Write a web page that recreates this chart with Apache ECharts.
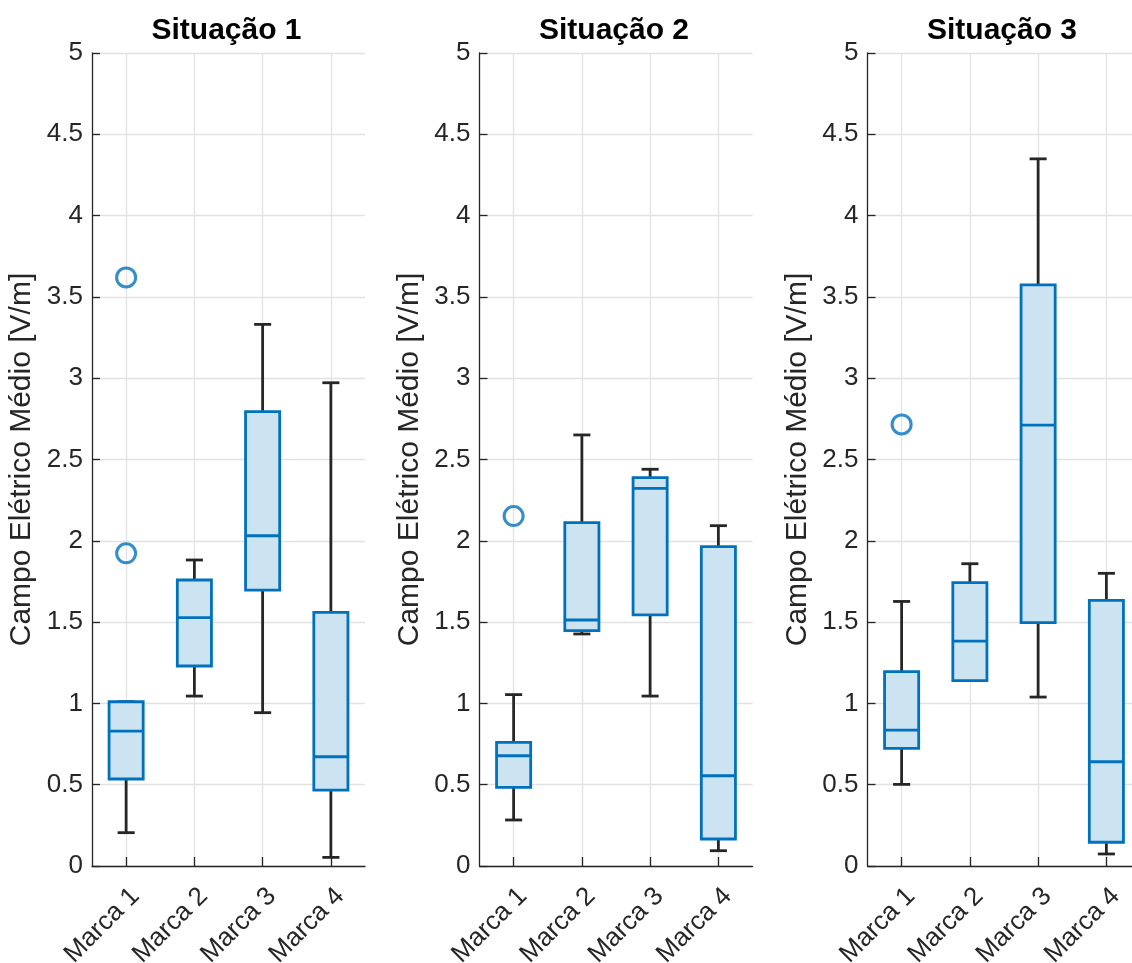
<!DOCTYPE html>
<html>
<head>
<meta charset="utf-8">
<script src="https://cdn.jsdelivr.net/npm/echarts@6/dist/echarts.min.js"></script>
<style>
html,body{margin:0;padding:0;background:#fff;}
#chart{width:1132px;height:963px;}
</style>
</head>
<body>
<div id="chart"></div>
<script>
const categories = ['Marca 1', 'Marca 2', 'Marca 3', 'Marca 4'];
const titles = ['Situação 1', 'Situação 2', 'Situação 3'];
const yLabel = 'Campo Elétrico Médio [V/m]';

// Situação 1: whisker low, Q1, median, Q3, whisker high
const s1Low  = [0.205, 1.045, 0.943, 0.053];
const s1Q1   = [0.535, 1.230, 1.697, 0.467];
const s1Med  = [0.830, 1.527, 2.031, 0.672];
const s1Q3   = [1.010, 1.759, 2.794, 1.560];
const s1High = [1.010, 1.882, 3.331, 2.972];
const s1Outliers = [[0, 3.62], [0, 1.923]];

// Situação 2
const s2Low  = [0.283, 1.427, 1.045, 0.094];
const s2Q1   = [0.484, 1.447, 1.544, 0.166];
const s2Med  = [0.678, 1.513, 2.322, 0.555];
const s2Q3   = [0.760, 2.112, 2.388, 1.964];
const s2High = [1.054, 2.651, 2.440, 2.093];
const s2Outliers = [[0, 2.152]];

// Situação 3
const s3Low  = [0.502, 1.140, 1.039, 0.074];
const s3Q1   = [0.724, 1.140, 1.497, 0.146];
const s3Med  = [0.836, 1.383, 2.711, 0.641];
const s3Q3   = [1.196, 1.743, 3.574, 1.634];
const s3High = [1.627, 1.859, 4.349, 1.800];
const s3Outliers = [[0, 2.716]];

const yTicks = { min: 0, max: 5, interval: 0.5 };

const panels = [
  { low: s1Low, q1: s1Q1, med: s1Med, q3: s1Q3, high: s1High, out: s1Outliers },
  { low: s2Low, q1: s2Q1, med: s2Med, q3: s2Q3, high: s2High, out: s2Outliers },
  { low: s3Low, q1: s3Q1, med: s3Med, q3: s3Q3, high: s3High, out: s3Outliers }
];

const BLUE = '#0072BD';
const FILL = '#CCE3F2';
const DARK = '#262626';
const GRIDC = '#e2e2e2';
const FONT = '"Liberation Sans", Arial, Helvetica, sans-serif';

const gridLefts = [92, 479.5, 867.5];
const gridW = 273;

function renderBox(params, api) {
  const x = api.value(0);
  const lo = api.coord([x, api.value(1)]);
  const q1 = api.coord([x, api.value(2)]);
  const md = api.coord([x, api.value(3)]);
  const q3 = api.coord([x, api.value(4)]);
  const hi = api.coord([x, api.value(5)]);
  const band = api.size([1, 0])[0];
  const bw = band * 0.5;
  const cw = band * 0.25;
  const cx = lo[0];
  const lw = 2.8;
  const whisk = { stroke: DARK, lineWidth: lw, fill: null };
  return {
    type: 'group',
    children: [
      { type: 'line', shape: { x1: cx, y1: lo[1], x2: cx, y2: hi[1] }, style: whisk },
      { type: 'line', shape: { x1: cx - cw / 2, y1: lo[1], x2: cx + cw / 2, y2: lo[1] }, style: whisk },
      { type: 'line', shape: { x1: cx - cw / 2, y1: hi[1], x2: cx + cw / 2, y2: hi[1] }, style: whisk },
      { type: 'rect', shape: { x: cx - bw / 2, y: q3[1], width: bw, height: q1[1] - q3[1] },
        style: { fill: FILL, stroke: BLUE, lineWidth: lw } },
      { type: 'line', shape: { x1: cx - bw / 2, y1: md[1], x2: cx + bw / 2, y2: md[1] },
        style: { stroke: BLUE, lineWidth: lw, fill: null } }
    ]
  };
}

const grid = [], xAxis = [], yAxis = [], series = [], graphic = [];

panels.forEach((p, i) => {
  grid.push({ left: gridLefts[i], top: 53, width: gridW, height: 813, containLabel: false, outerBoundsMode: 'none' });
  graphic.push({
    type: 'text',
    x: gridLefts[i] + gridW / 2 - 2,
    y: 31,
    style: {
      text: titles[i],
      font: 'bold 30px ' + FONT,
      fill: '#000',
      textAlign: 'center',
      textVerticalAlign: 'middle'
    }
  });
  xAxis.push({
    type: 'category',
    gridIndex: i,
    data: categories,
    boundaryGap: true,
    axisLine: { show: true, lineStyle: { color: DARK, width: 1.3 } },
    axisTick: { show: true, inside: true, length: 9, alignWithLabel: true, lineStyle: { color: DARK, width: 1.3 } },
    splitLine: { show: true, alignWithLabel: true, lineStyle: { color: GRIDC, width: 1.3 } },
    axisLabel: {
      rotate: 45, fontFamily: FONT, fontSize: 26, color: DARK, margin: 17,
      verticalAlign: 'top', lineHeight: 26, interval: 0
    }
  });
  yAxis.push({
    type: 'value',
    gridIndex: i,
    min: yTicks.min, max: yTicks.max, interval: yTicks.interval,
    name: yLabel,
    nameLocation: 'middle',
    nameGap: 55,
    nameTextStyle: { fontFamily: FONT, fontSize: 30, color: DARK },
    axisLine: { show: true, lineStyle: { color: DARK, width: 1.3 } },
    axisTick: { show: true, inside: true, length: 8, lineStyle: { color: DARK, width: 1.3 } },
    splitLine: { show: true, lineStyle: { color: GRIDC, width: 1.3 } },
    axisLabel: { fontFamily: FONT, fontSize: 26, color: DARK, margin: 9 }
  });
  const boxData = categories.map((c, k) => [k, p.low[k], p.q1[k], p.med[k], p.q3[k], p.high[k]]);
  series.push({
    type: 'custom',
    xAxisIndex: i, yAxisIndex: i,
    renderItem: renderBox,
    encode: { x: 0, y: [1, 2, 3, 4, 5] },
    data: boxData,
    silent: true,
    clip: false
  });
  series.push({
    type: 'scatter',
    xAxisIndex: i, yAxisIndex: i,
    data: p.out,
    symbol: 'circle',
    symbolSize: 19,
    itemStyle: { color: 'rgba(0,0,0,0)', borderColor: BLUE, borderWidth: 3 },
    silent: true,
    z: 5
  });
});

const chart = echarts.init(document.getElementById('chart'), null, { renderer: 'canvas' });
chart.setOption({
  animation: false,
  backgroundColor: '#fff',
  grid, xAxis, yAxis, series, graphic
});
</script>
</body>
</html>
